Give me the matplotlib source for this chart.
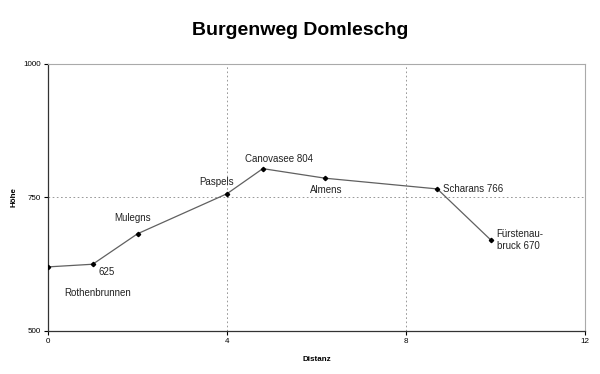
import matplotlib.pyplot as plt

plt.rcParams['font.family'] = ['Liberation Sans', 'DejaVu Sans']

# Distanz / Höhe
dist = [0, 1.0, 2.0, 4.0, 4.8, 6.2, 8.7, 9.9]
hoehe = [620, 625, 682, 757, 804, 786, 766, 670]
orte = ['Rothenbrunnen', '625', 'Mulegns', 'Paspels', 'Canovasee 804',
        'Almens', 'Scharans 766', 'Fürstenau-\nbruck 670']
# label offsets in points (dx, dy) and alignment
offs = [(12, -15, 'left', 'top'), (4, -2, 'left', 'top'), (-17, 8, 'left', 'bottom'),
        (-20, 5, 'left', 'bottom'), (-13, 3, 'left', 'bottom'), (-11, -5, 'left', 'top'),
        (4, 0, 'left', 'center'), (4, 0, 'left', 'center')]

fig = plt.figure(figsize=(6, 3.74), dpi=100)
ax = fig.add_axes([0.08, 0.115, 0.895, 0.714])

ax.plot(dist, hoehe, color='#606060', lw=0.9, marker='D', ms=2.2,
        mfc='black', mec='black', zorder=3)

for x, y, t, (dx, dy, ha, va) in zip(dist, hoehe, orte, offs):
    ax.annotate(t, (x, y), xytext=(dx, dy), textcoords='offset points',
                ha=ha, va=va, fontsize=7, color='#222222', linespacing=1.3)

ax.set_xlim(0, 12)
ax.set_ylim(500, 1000)
ax.set_xticks([0, 4, 8, 12])
ax.set_yticks([500, 750, 1000])
ax.tick_params(labelsize=5.8, length=3, width=0.8, pad=2)
ax.grid(True, ls=(0, (2, 3)), color='#888888', lw=0.6)

for s in ['left', 'bottom']:
    ax.spines[s].set_color('#333333')
    ax.spines[s].set_linewidth(0.9)
for s in ['top', 'right']:
    ax.spines[s].set_color('#aaaaaa')
    ax.spines[s].set_linewidth(0.8)

ax.set_xlabel('Distanz', fontsize=5.8, fontweight='bold')
ax.set_ylabel('Höhe', fontsize=5.8, fontweight='bold')
ax.xaxis.set_label_coords(0.5, -0.094)
ax.yaxis.set_label_coords(-0.056, 0.5)
fig.suptitle('Burgenweg Domleschg', fontsize=14, fontweight='bold', y=0.94)

fig.savefig('out.png', dpi=100)
